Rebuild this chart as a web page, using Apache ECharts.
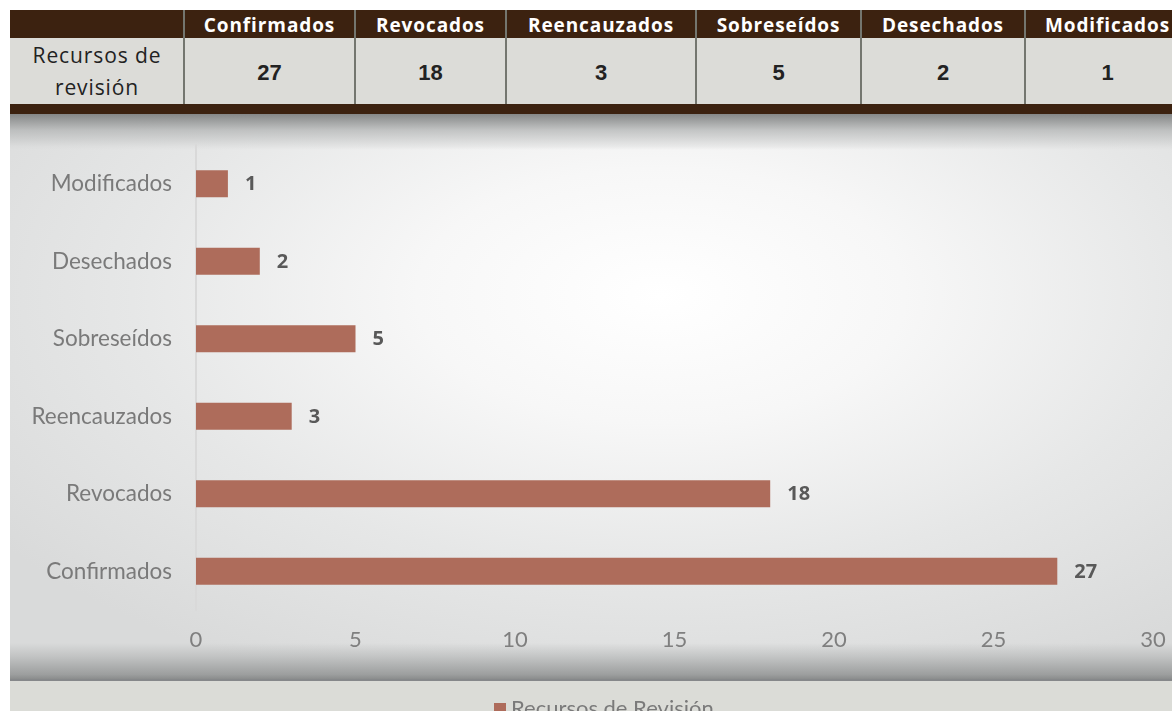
<!DOCTYPE html>
<html>
<head>
<meta charset="utf-8">
<script src="https://cdn.jsdelivr.net/npm/echarts@6/dist/echarts.min.js"></script>
<style>
  html, body { margin: 0; padding: 0; width: 1172px; height: 711px; overflow: hidden; background: #ffffff; }
  #wrap { position: absolute; left: 0; top: 0; width: 1172px; height: 711px; }
  .layer { position: absolute; }
  #tbl { position: absolute; left: 10px; top: 10px; width: 1180px; height: 104px; }
  #hdr { position: absolute; left: 0; top: 0; width: 100%; height: 28px; background: #3c2210; }
  #row { position: absolute; left: 0; top: 28px; width: 100%; height: 66px; background: #dcdcd8; }
  #hdrB { position: absolute; left: 0; top: 94px; width: 100%; height: 10px; background: #3c2210; }
  .hcell { position: absolute; top: 0; height: 28px; line-height: 30px; text-align: center; color: #ffffff;
           font-family: "Open Sans", sans-serif; font-weight: 700; font-size: 19px; letter-spacing: 0.9px; white-space: nowrap; }
  .vcell { position: absolute; top: 30px; height: 66px; line-height: 66px; text-align: center; color: #222222;
           font-family: "Liberation Sans", Arial, sans-serif; font-weight: 700; font-size: 22px; }
  .div { position: absolute; top: 0; width: 2px; height: 94px; background: #74766f; }
  #rowlab { position: absolute; left: 0; top: 28px; width: 174px; height: 66px; text-align: center; color: #222;
            font-family: "Open Sans", sans-serif; font-size: 21px; line-height: 32px; padding-top: 1px; box-sizing: border-box; letter-spacing: 0.9px; white-space: nowrap; }
  #chartbg { left: 10px; top: 114px; width: 1162px; height: 567px;
             background: radial-gradient(ellipse 70% 75% at 56% 32%, #ffffff 0%, #f7f7f7 30%, #e6e7e7 65%, #d9dada 100%); }
  #topsh { left: 10px; top: 114px; width: 1162px; height: 36px;
           background: linear-gradient(to bottom, rgba(128,130,130,0.95) 0%, rgba(175,177,177,0.7) 45%, rgba(215,216,216,0.4) 90%, rgba(230,231,231,0) 100%); }
  #botsh { left: 10px; top: 643px; width: 1162px; height: 37px;
           background: linear-gradient(to bottom, rgba(200,202,202,0) 0%, rgba(180,182,182,0.6) 35%, rgba(150,152,152,0.9) 85%, rgba(135,137,137,1) 100%); }
  #botline { left: 10px; top: 679px; width: 1162px; height: 2px; background: #86888a; }
  #legbg { left: 10px; top: 681px; width: 1162px; height: 30px; background: #dbdcd7; }
  #chart { position: absolute; left: 0; top: 0; width: 1172px; height: 711px; }
</style>
</head>
<body>
<div id="wrap">
  <div id="tbl">
    <div id="hdr"></div>
    <div id="row"></div>
    <div id="hdrB"></div>
  </div>
  <div class="layer" id="chartbg"></div>
  <div class="layer" id="topsh"></div>
  <div class="layer" id="botsh"></div>
  <div class="layer" id="botline"></div>
  <div class="layer" id="legbg"></div>
  <div id="chart"></div>
</div>
<script>
// ---- data ----
const categories = ["Confirmados", "Revocados", "Reencauzados", "Sobreseídos", "Desechados", "Modificados"];
const values = [27, 18, 3, 5, 2, 1];
const seriesName = "Recursos de Revisión";
const rowLabel = "Recursos de<br>revisión";
const xTicks = [0, 5, 10, 15, 20, 25, 30];

// ---- table (built from the data arrays) ----
const colEdges = [174, 345, 496, 686, 851, 1015, 1180]; // relative to table left
const tbl = document.getElementById('tbl');
const rl = document.createElement('div');
rl.id = 'rowlab';
rl.innerHTML = rowLabel;
tbl.appendChild(rl);
for (let i = 0; i < categories.length; i++) {
  const l = colEdges[i], r = colEdges[i + 1];
  const h = document.createElement('div');
  h.className = 'hcell';
  h.style.left = l + 'px'; h.style.width = (r - l) + 'px';
  h.textContent = categories[i];
  tbl.appendChild(h);
  const v = document.createElement('div');
  v.className = 'vcell';
  v.style.left = l + 'px'; v.style.width = (r - l) + 'px';
  v.textContent = values[i];
  tbl.appendChild(v);
  const d = document.createElement('div');
  d.className = 'div';
  d.style.left = (l - 1) + 'px';
  tbl.appendChild(d);
}

// ---- chart ----
const chart = echarts.init(document.getElementById('chart'), null, { renderer: 'canvas' });
chart.setOption({
  backgroundColor: 'transparent',
  animation: false,
  grid: { left: 196, right: 19, top: 145, bottom: 101, containLabel: false },
  legend: {
    data: [seriesName],
    left: 494, top: 698,
    padding: 0,
    itemWidth: 12, itemHeight: 12, itemGap: 8,
    icon: 'rect',
    textStyle: { fontFamily: 'Lato', fontSize: 22, color: '#7a7a7a', lineHeight: 12, padding: [6, 0, 0, 0] }
  },
  xAxis: {
    type: 'value',
    min: xTicks[0], max: xTicks[xTicks.length - 1], interval: 5,
    axisLine: { show: false },
    axisTick: { show: false },
    splitLine: { show: false },
    axisLabel: { fontFamily: 'Lato', fontSize: 22, color: '#7f7f7f', margin: 19 }
  },
  yAxis: {
    type: 'category',
    data: categories,
    axisLine: { show: true, lineStyle: { color: '#d9d9d9', width: 2 } },
    axisTick: { show: false },
    axisLabel: { fontFamily: 'Lato', fontSize: 22.5, color: '#7a7a7a', margin: 24 }
  },
  series: [{
    name: seriesName,
    type: 'bar',
    data: values,
    barWidth: 27,
    itemStyle: { color: '#ae6c5b' },
    label: {
      show: true, position: 'right', distance: 17, offset: [0, 1],
      fontFamily: 'Open Sans', fontWeight: 'bold', fontSize: 20, color: '#595959'
    }
  }]
});
</script>
</body>
</html>
